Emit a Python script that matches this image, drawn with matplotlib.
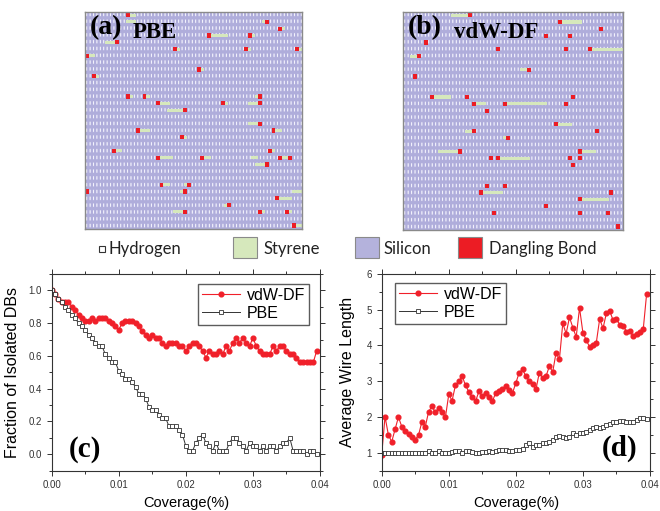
import numpy as np
import matplotlib.pyplot as plt
from matplotlib.patches import Rectangle
from matplotlib.ticker import MultipleLocator, FormatStrFormatter

plt.rcParams['font.family'] = ['Liberation Sans', 'DejaVu Sans']

# ---- lattice snapshots (32 rows x 64 columns), rows counted from the top ----
a_db_row = [0, 1, 2, 3, 3, 4, 5, 5, 5, 6, 8, 9, 12, 12, 12, 13, 13, 13, 14, 16, 17, 17, 18,
            20, 20, 21, 21, 21, 21, 22, 25, 25, 26, 26, 27, 28, 29, 29, 29, 31]
a_db_col = [12, 53, 57, 36, 48, 9, 26, 47, 62, 0, 33, 2, 12, 17, 51, 21, 40, 51, 29, 51, 15, 55, 28,
            8, 54, 21, 34, 57, 60, 53, 22, 30, 0, 29, 56, 42, 29, 51, 59, 61]
a_sty_row = [0, 1, 1, 2, 3, 3, 4, 5, 5, 5, 6, 8, 9, 12, 12, 12, 13, 13, 13, 14, 16, 17, 17, 18,
             20, 20, 21, 21, 21, 21, 22, 25, 25, 26, 26, 27, 28, 29, 29, 29, 31]
a_sty_start = [13, 12, 52, 58, 37, 49, 6, 27, 48, 63, 1, 34, 3, 13, 18, 50, 22, 41, 48, 24, 48, 16, 56, 29,
               9, 55, 22, 35, 58, 49, 50, 23, 29, 28, 61, 57, 41, 26, 52, 60, 62]
a_sty_len = [2, 3, 1, 1, 5, 1, 3, 1, 1, 1, 2, 1, 1, 1, 1, 1, 3, 1, 3, 5, 3, 3, 2, 1,
             2, 1, 4, 2, 2, 2, 3, 2, 1, 1, 3, 4, 1, 3, 1, 1, 2]

b_db_row = [0, 1, 2, 3, 3, 4, 5, 5, 5, 6, 8, 9, 12, 12, 12, 13, 13, 13, 14, 16, 17, 17, 18,
            20, 20, 21, 21, 21, 21, 22, 25, 25, 26, 26, 27, 28, 29, 29, 29, 31]
b_db_col = [19, 45, 57, 41, 48, 6, 27, 47, 54, 4, 36, 3, 8, 18, 49, 20, 29, 47, 24, 44, 20, 56, 30,
            16, 51, 25, 27, 48, 51, 49, 24, 29, 22, 60, 51, 41, 26, 51, 59, 62]
b_sty_row = [0, 1, 5, 6, 8, 12, 13, 13, 16, 17, 18, 20, 20, 21, 26, 27]
b_sty_start = [14, 46, 55, 2, 34, 9, 21, 30, 45, 18, 29, 10, 52, 28, 23, 52]
b_sty_len = [5, 6, 9, 2, 2, 5, 3, 12, 4, 2, 1, 6, 4, 9, 6, 8]

# ---- curves ----
coverage = np.arange(80) * 0.0005

frac_vdw = [1.00, 0.98, 0.95, 0.93, 0.93, 0.93, 0.90, 0.88, 0.85, 0.83,
            0.81, 0.81, 0.83, 0.81, 0.83, 0.83, 0.83, 0.81, 0.80, 0.78,
            0.76, 0.80, 0.81, 0.81, 0.81, 0.80, 0.78, 0.75, 0.73, 0.71,
            0.73, 0.71, 0.71, 0.68, 0.66, 0.68, 0.68, 0.68, 0.66, 0.66,
            0.63, 0.66, 0.68, 0.68, 0.66, 0.63, 0.59, 0.63, 0.61, 0.61,
            0.63, 0.61, 0.66, 0.63, 0.68, 0.71, 0.68, 0.71, 0.68, 0.66,
            0.71, 0.66, 0.63, 0.61, 0.61, 0.61, 0.66, 0.63, 0.66, 0.66,
            0.63, 0.61, 0.61, 0.59, 0.56, 0.56, 0.56, 0.56, 0.56, 0.63]
frac_pbe = [1.00, 0.98, 0.95, 0.93, 0.90, 0.88, 0.85, 0.83, 0.80, 0.78,
            0.76, 0.73, 0.71, 0.68, 0.66, 0.66, 0.61, 0.59, 0.56, 0.56,
            0.51, 0.49, 0.46, 0.46, 0.44, 0.41, 0.37, 0.37, 0.34, 0.29,
            0.27, 0.27, 0.24, 0.22, 0.22, 0.17, 0.17, 0.17, 0.15, 0.12,
            0.05, 0.02, 0.02, 0.07, 0.10, 0.12, 0.07, 0.05, 0.02, 0.07,
            0.02, 0.02, 0.02, 0.07, 0.10, 0.10, 0.07, 0.05, 0.02, 0.07,
            0.05, 0.05, 0.02, 0.05, 0.02, 0.05, 0.05, 0.02, 0.05, 0.07,
            0.07, 0.10, 0.02, 0.02, 0.02, 0.02, 0.00, 0.02, 0.02, 0.00]

wire_vdw = [0.94, 2.01, 1.50, 1.31, 1.66, 2.00, 1.73, 1.61, 1.52, 1.45,
            1.36, 1.50, 1.87, 1.73, 2.15, 2.30, 2.13, 2.25, 2.13, 1.99,
            2.63, 2.46, 2.89, 3.00, 3.14, 2.89, 2.70, 2.55, 2.44, 2.72,
            2.58, 2.67, 2.55, 2.44, 2.67, 2.72, 2.79, 2.86, 2.75, 2.67,
            2.95, 3.24, 3.33, 3.14, 3.00, 2.91, 2.77, 3.24, 3.10, 3.14,
            3.42, 3.26, 3.80, 3.61, 4.62, 4.33, 4.79, 4.50, 4.24, 5.05,
            4.36, 4.15, 3.96, 4.02, 4.08, 4.74, 4.48, 4.90, 4.96, 4.71,
            4.74, 4.58, 4.55, 4.39, 4.40, 4.26, 4.31, 4.38, 4.46, 5.44]
wire_pbe = [1.00, 1.00, 1.00, 1.00, 1.00, 1.00, 1.00, 1.00, 1.00, 1.00,
            1.00, 1.00, 1.00, 1.00, 1.05, 1.00, 1.00, 1.05, 1.00, 1.00,
            1.00, 1.02, 1.04, 1.04, 1.00, 1.04, 1.04, 1.02, 1.00, 1.00,
            1.02, 1.02, 1.04, 1.02, 1.06, 1.07, 1.08, 1.08, 1.06, 1.04,
            1.08, 1.08, 1.10, 1.22, 1.26, 1.17, 1.22, 1.22, 1.26, 1.26,
            1.31, 1.36, 1.45, 1.48, 1.45, 1.40, 1.45, 1.54, 1.50, 1.54,
            1.54, 1.59, 1.64, 1.69, 1.73, 1.69, 1.73, 1.78, 1.80, 1.87,
            1.87, 1.89, 1.89, 1.87, 1.87, 1.87, 1.92, 1.97, 1.97, 1.95]

SI = np.array([0.69, 0.68, 0.86])
DASH = np.array([0.95, 0.95, 0.99])
STY = '#d6e8bc'
DB = '#ec1c24'
RED = '#f0202a'


def draw_lattice(ax, db_row, db_col, sty_row, sty_start, sty_len):
    nrow, ncol = 32, 64
    cell = np.zeros((4, 3), bool)
    cell[1:3, 1] = True
    mask = np.tile(cell, (nrow, ncol))
    img = np.where(mask[..., None], DASH, SI)
    ax.imshow(img, extent=(0, ncol, nrow, 0), aspect='auto', interpolation='hanning')
    ax.barh(np.array(sty_row) + 0.5, sty_len, left=sty_start, height=0.45,
            color=STY, linewidth=0)
    ax.barh(np.array(db_row) + 0.5, 1.15, left=np.array(db_col) - 0.07, height=0.62,
            color=DB, linewidth=0)
    ax.set_xlim(0, ncol)
    ax.set_ylim(nrow, 0)
    ax.set_xticks([])
    ax.set_yticks([])
    for s in ax.spines.values():
        s.set_color('#8a8a8a')
        s.set_linewidth(1.0)


fig = plt.figure(figsize=(6.6, 5.11), dpi=100)

ax_a = fig.add_axes([0.129, 0.552, 0.329, 0.425])
draw_lattice(ax_a, a_db_row, a_db_col, a_sty_row, a_sty_start, a_sty_len)
ax_a.text(0.02, 0.985, '(a)', transform=ax_a.transAxes, family='Liberation Serif',
          weight='bold', fontsize=20, va='top', ha='left')
ax_a.text(0.22, 0.905, 'PBE', transform=ax_a.transAxes, family='Liberation Serif',
          weight='bold', fontsize=16.5, va='center', ha='left')

ax_b = fig.add_axes([0.611, 0.550, 0.333, 0.427])
draw_lattice(ax_b, b_db_row, b_db_col, b_sty_row, b_sty_start, b_sty_len)
ax_b.text(0.02, 0.985, '(b)', transform=ax_b.transAxes, family='Liberation Serif',
          weight='bold', fontsize=20, va='top', ha='left')
ax_b.text(0.23, 0.905, 'vdW-DF', transform=ax_b.transAxes, family='Liberation Serif',
          weight='bold', fontsize=16.5, va='center', ha='left')

# key row
W, H = 660.0, 511.0
key_font = ['Lato', 'DejaVu Sans']
yc = 1 - 249 / H
fig.add_artist(Rectangle((99 / W, 1 - 252 / H), 6 / W, 6 / H, transform=fig.transFigure,
                         facecolor='white', edgecolor='#333333', linewidth=0.8))
for x0, col in [(233, STY), (355, '#b4b2dc'), (458, DB)]:
    fig.add_artist(Rectangle((x0 / W, 1 - 258 / H), 24 / W, 21 / H, transform=fig.transFigure,
                             facecolor=col, edgecolor='#8a8a8a', linewidth=0.8))
for x0, txt in [(109, 'Hydrogen'), (263, 'Styrene'), (383, 'Silicon'), (489, 'Dangling Bond')]:
    fig.text(x0 / W, yc, txt, family=key_font, fontsize=12, va='center', ha='left',
             color='#222222')


def style_axes(ax):
    ax.set_xlim(0, 0.04)
    ax.xaxis.set_major_locator(MultipleLocator(0.01))
    ax.xaxis.set_minor_locator(MultipleLocator(0.005))
    ax.xaxis.set_major_formatter(FormatStrFormatter('%.2f'))
    ax.tick_params(which='both', labelsize=7, colors='#333333', width=0.7)
    ax.tick_params(which='major', length=3.5)
    ax.tick_params(which='minor', length=2)
    ax.tick_params(which='both', top=True, right=True, labeltop=False, labelright=False)
    ax.set_xlabel('Coverage(%)', fontsize=10.5, labelpad=4)
    for s in ax.spines.values():
        s.set_linewidth(0.8)
        s.set_color('#333333')


ax_c = fig.add_axes([0.0783, 0.0789, 0.4065, 0.385])
ax_c.plot(coverage, frac_vdw, '-o', color=RED, lw=0.8, ms=3.4, mec=RED, mfc=RED, label='vdW-DF')
ax_c.plot(coverage, frac_pbe, '-s', color='#333333', lw=0.7, ms=3.1, mfc='white', mec='#333333',
          mew=0.6, label='PBE')
style_axes(ax_c)
ax_c.set_ylim(-0.1, 1.1)
ax_c.yaxis.set_major_locator(MultipleLocator(0.2))
ax_c.yaxis.set_minor_locator(MultipleLocator(0.1))
ax_c.yaxis.set_major_formatter(FormatStrFormatter('%.1f'))
ax_c.set_ylabel('Fraction of Isolated DBs', fontsize=11.5, labelpad=6)
ax_c.legend(loc='upper right', bbox_to_anchor=(0.96, 0.95), fontsize=11.5, frameon=True,
            fancybox=False, edgecolor='#333333', handlelength=2.4, borderpad=0.25,
            labelspacing=0.2, handletextpad=0.4, borderaxespad=0)
ax_c.text(0.125, 0.11, '(c)', transform=ax_c.transAxes, family='Liberation Serif',
          weight='bold', fontsize=21, ha='center', va='center')

ax_d = fig.add_axes([0.5783, 0.0789, 0.4065, 0.385])
ax_d.plot(coverage, wire_vdw, '-o', color=RED, lw=0.8, ms=3.4, mec=RED, mfc=RED, label='vdW-DF')
ax_d.plot(coverage, wire_pbe, '-s', color='#333333', lw=0.7, ms=3.1, mfc='white', mec='#333333',
          mew=0.6, label='PBE')
style_axes(ax_d)
ax_d.set_ylim(0.5, 6)
ax_d.yaxis.set_major_locator(MultipleLocator(1))
ax_d.yaxis.set_minor_locator(MultipleLocator(0.5))
ax_d.set_ylabel('Average Wire Length', fontsize=11.5, labelpad=8)
ax_d.legend(loc='upper left', bbox_to_anchor=(0.05, 0.955), fontsize=11.5, frameon=True,
            fancybox=False, edgecolor='#333333', handlelength=2.4, borderpad=0.25,
            labelspacing=0.2, handletextpad=0.4, borderaxespad=0)
ax_d.text(0.888, 0.115, '(d)', transform=ax_d.transAxes, family='Liberation Serif',
          weight='bold', fontsize=21, ha='center', va='center')

fig.savefig('out.png', dpi=100)
